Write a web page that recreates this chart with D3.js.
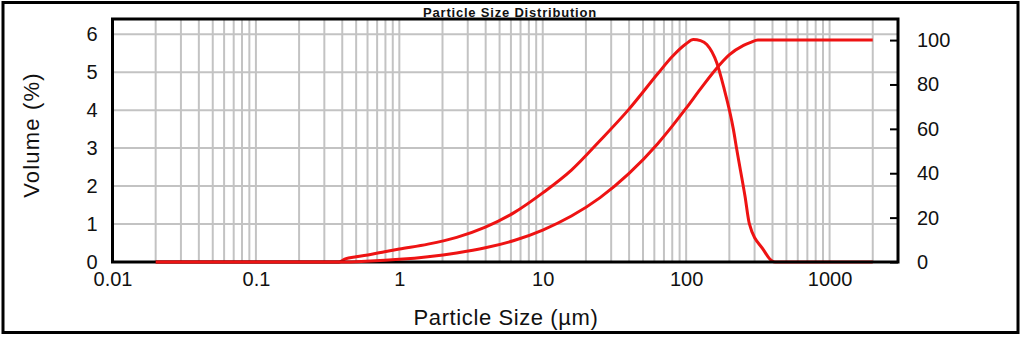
<!DOCTYPE html>
<html>
<head>
<meta charset="utf-8">
<script src="https://cdn.jsdelivr.net/npm/d3@7"></script>
<style>
  html, body { margin: 0; padding: 0; background: #fff; }
  svg { display: block; font-family: "Liberation Sans", Arial, sans-serif; }
</style>
</head>
<body>
<svg id="chart" width="1023" height="337"></svg>
<script>
// ---- data ----
const freqSizes = [0.02, 0.38, 0.42, 0.5, 0.63, 0.79, 1, 1.585, 2.512, 3.981, 6.31, 10, 15.85, 25.12, 39.81, 63.1, 79.43, 100, 112.2, 125.9, 139.3, 163.7, 182, 213.8, 225.4, 257.6, 275.4, 345.9, 395.4, 416.9, 2000];
const freqValues = [0, 0, 0.08, 0.14, 0.2, 0.27, 0.34, 0.47, 0.65, 0.92, 1.3, 1.82, 2.42, 3.2, 4.02, 4.95, 5.4, 5.75, 5.86, 5.83, 5.73, 5.24, 4.63, 3.48, 2.96, 1.72, 1.02, 0.32, 0.03, 0, 0];
const cumSizes = [0.02, 0.38, 0.501, 0.631, 0.794, 1, 1.585, 2.512, 3.981, 6.31, 10, 15.85, 25.12, 39.81, 63.1, 79.43, 100, 125.9, 158.5, 199.5, 251.2, 281.8, 316.2, 2000];
const cumValues = [0, 0, 0.15, 0.4, 0.75, 1.2, 2.4, 4.1, 6.4, 9.7, 14.4, 20.7, 29.0, 39.8, 53.2, 61.0, 69.3, 78.0, 86.3, 93.3, 97.6, 99.0, 100, 100];
const xTickValues = [0.01, 0.1, 1, 10, 100, 1000];
const xTickLabels = ["0.01", "0.1", "1", "10", "100", "1000"];
const leftTicks = [0, 1, 2, 3, 4, 5, 6];
const rightTicks = [0, 20, 40, 60, 80, 100];
const chartTitle = "Particle Size Distribution";
const xTitle = "Particle Size (\u00b5m)";
const yTitle = "Volume (%)";

// ---- layout ----
const L = 112.5, R = 898, T = 19, B = 262;
const red = "#ee1313";
const svg = d3.select("#chart");

const x = d3.scaleLog().domain([0.01, 3000]).range([L, R]);
const yL = d3.scaleLinear().domain([0, 6.4]).range([B, T]);
const yR = d3.scaleLinear().domain([0, 109.5]).range([B, T]);

// outer border
svg.append("rect").attr("x", 3).attr("y", 2.5).attr("width", 1015).attr("height", 330)
  .attr("fill", "none").attr("stroke", "#000").attr("stroke-width", 3);

// vertical grid lines (1..9 per decade)
const gridX = [];
for (let e = -2; e <= 3; e++) for (let m = 1; m <= 9; m++) {
  const v = m * Math.pow(10, e);
  if (v > 0.01 && v < 3000) gridX.push(v);
}
svg.append("g").selectAll("line").data(gridX).join("line")
  .attr("x1", d => x(d)).attr("x2", d => x(d)).attr("y1", T).attr("y2", B)
  .attr("stroke", "#c3c3c3").attr("stroke-width", 2);
svg.append("g").selectAll("line").data(leftTicks.filter(d => d > 0)).join("line")
  .attr("x1", L).attr("x2", R).attr("y1", d => yL(d)).attr("y2", d => yL(d))
  .attr("stroke", "#c3c3c3").attr("stroke-width", 2);

// frequency curve
const lineF = d3.line().x(d => x(d[0])).y(d => yL(d[1])).curve(d3.curveMonotoneX);
svg.append("path").datum(freqSizes.map((s, i) => [s, freqValues[i]]))
  .attr("d", lineF).attr("fill", "none").attr("stroke", red).attr("stroke-width", 3)
  .attr("stroke-linejoin", "round");

// frame
svg.append("rect").attr("x", L).attr("y", T).attr("width", R - L).attr("height", B - T)
  .attr("fill", "none").attr("stroke", "#000").attr("stroke-width", 3);

// cumulative curve
const lineC = d3.line().x(d => x(d[0])).y(d => yR(d[1])).curve(d3.curveMonotoneX);
svg.append("path").datum(cumSizes.map((s, i) => [s, cumValues[i]]))
  .attr("d", lineC).attr("fill", "none").attr("stroke", red).attr("stroke-width", 3)
  .attr("stroke-linejoin", "round");

// axes
const ax = svg.append("g").attr("transform", `translate(0,${B})`)
  .call(d3.axisBottom(x).tickValues(xTickValues).tickFormat((d, i) => xTickLabels[i]).tickSize(0).tickPadding(10));
const al = svg.append("g").attr("transform", `translate(${L},0)`)
  .call(d3.axisLeft(yL).tickValues(leftTicks).tickFormat(d3.format("d")).tickSize(0).tickPadding(15));
const ar = svg.append("g").attr("transform", `translate(${R},0)`)
  .call(d3.axisRight(yR).tickValues(rightTicks).tickFormat(d3.format("d")).tickSizeInner(-8).tickSizeOuter(0).tickPadding(19));
[ax, al, ar].forEach(g => {
  g.select(".domain").remove();
  g.selectAll("text").attr("font-size", 20).attr("fill", "#111").attr("font-family", "Liberation Sans, Arial, sans-serif");
  g.selectAll(".tick line").attr("stroke", "#000").attr("stroke-width", 2);
});

// titles
svg.append("text").attr("x", 510).attr("y", 17).attr("text-anchor", "middle")
  .attr("font-size", 13).attr("font-weight", "bold").attr("letter-spacing", 0.8).attr("fill", "#111")
  .text(chartTitle);
svg.append("text").attr("x", 506).attr("y", 325).attr("text-anchor", "middle")
  .attr("font-size", 22).attr("letter-spacing", 0.6).attr("fill", "#111").text(xTitle);
svg.append("text").attr("transform", "translate(39,135) rotate(-90)").attr("text-anchor", "middle")
  .attr("font-size", 22).attr("letter-spacing", 1.2).attr("fill", "#111").text(yTitle);
</script>
</body>
</html>
